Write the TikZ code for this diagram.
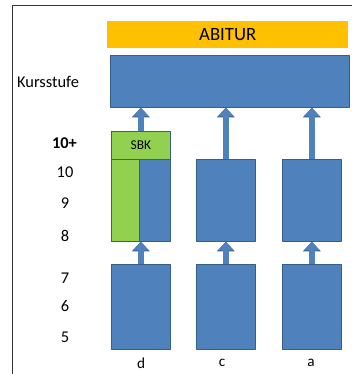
\documentclass[tikz,border=0pt]{standalone}
\usepackage{fontspec}
\setmainfont{Carlito}
\usetikzlibrary{arrows.meta}
\definecolor{boxblue}{HTML}{4F81BD}
\definecolor{boxline}{HTML}{385D8A}
\definecolor{abiorange}{HTML}{FFC000}
\definecolor{sbkgreen}{HTML}{92D050}
\tikzset{
  stufe/.style={draw=boxline, fill=boxblue, line width=0.6pt, anchor=north west, inner sep=0pt, minimum width=1.77cm},
  hoch/.style={draw=boxblue, line width=0.16cm, -{Triangle[width=0.46cm 0, length=0.26cm 0]},
    preaction={draw=boxline, line width=0.2cm, -{Triangle[width=0.52cm 0, length=0.29cm 0]}}},
}
\begin{document}
\begin{tikzpicture}[x=0.03cm, y=-0.03cm, font=\fontsize{14}{16}\selectfont, line join=round]
\useasboundingbox (0,0) rectangle (357,374);
\draw[black!80, line width=0.7pt] (12,374) -- (12,5) -- (352,5);
% Abitur und Kursstufe
\node[fill=abiorange, anchor=north west, inner sep=0pt, minimum width=7.23cm, minimum height=0.81cm, font=\fontsize{16}{18}\selectfont] (abi) at (107,21) {ABITUR};
\node[stufe, minimum width=7.17cm, minimum height=1.56cm] (kurs) at (110,55) {};
\node[anchor=west] (kurslabel) at (13,82) {Kursstufe};
% Klassen 8 bis 10
\node[stufe, fill=sbkgreen, minimum height=0.84cm, font=\fontsize{11.5}{13}\selectfont] (d1) at (111,131) {SBK};
\foreach \n/\x in {d2/111, c2/196, a2/282} \node[stufe, minimum height=2.46cm] (\n) at (\x,159) {};
\draw[boxline, fill=sbkgreen, line width=0.6pt] (d2.south west) rectangle ([xshift=-0.05cm]d2.north);
% Klassen 5 bis 7
\foreach \n/\x in {d3/111, c3/196, a3/282} \node[stufe, minimum height=2.55cm] (\n) at (\x,264) {};
% Pfeile
\draw[hoch] (d1.north) -- (d1.north |- kurs.south);
\foreach \n in {c2, a2} \draw[hoch] (\n.north) -- (\n.north |- kurs.south);
\foreach \c in {d, c, a} \draw[hoch] (\c3.north) -- (\c2.south);
% Beschriftung
\node[font=\fontsize{14}{16}\selectfont\bfseries] (g10p) at (64.5,143) {10+};
\foreach \t/\y in {10/172, 9/203, 8/236, 7/278, 6/306, 5/337} \node (g\t) at (65,\y) {\t};
\foreach \t/\x in {d/141, c/222, a/311} \node[font=\fontsize{13}{15}\selectfont] (l\t) at (\x,363) {\t};
\end{tikzpicture}
\end{document}
